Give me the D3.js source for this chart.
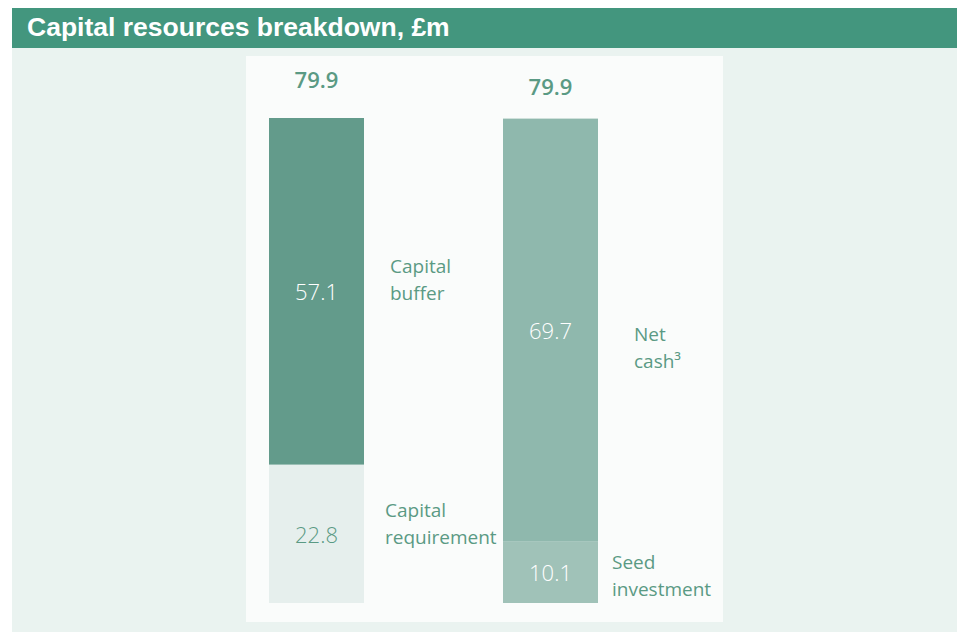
<!DOCTYPE html>
<html>
<head>
<meta charset="utf-8">
<script src="https://cdn.jsdelivr.net/npm/d3@7"></script>
<style>
  body { margin: 0; background: #fff; }
  svg { display: block; }
</style>
</head>
<body>
<div id="chart"></div>
<script>
// data
var columns = ['Capital resources', 'Sources'];
var totals = [79.9, 79.9];
var bottomValues = [22.8, 10.1];
var topValues = [57.1, 69.7];
var bottomNames = [['Capital', 'requirement'], ['Seed', 'investment']];
var topNames = [['Capital', 'buffer'], ['Net', 'cash\u00b3']];

var W = 957, H = 632;
var green = '#5a9a84';

var svg = d3.select('#chart').append('svg')
    .attr('width', W).attr('height', H);

// header + backgrounds
svg.append('rect').attr('x', 12).attr('y', 8).attr('width', W - 12).attr('height', 40)
    .attr('fill', '#43967e');
svg.append('text').attr('x', 27).attr('y', 36)
    .attr('font-family', 'Liberation Sans, Arial, sans-serif')
    .attr('font-weight', 'bold').attr('font-size', 26.5).attr('fill', '#fff')
    .text('Capital resources breakdown, \u00a3m');
svg.append('rect').attr('x', 12).attr('y', 48).attr('width', W - 12).attr('height', H - 48)
    .attr('fill', '#eaf3f0');
svg.append('rect').attr('x', 246).attr('y', 56).attr('width', 477).attr('height', 566)
    .attr('fill', '#fafcfb');

var x = d3.scalePoint().domain(columns).range([316.5, 550.5]);
var y = d3.scaleLinear().domain([0, 79.9]).range([603, 118]);
var bw = 95;

var segs = [];
columns.forEach(function(c, i){
  segs.push({col: c, i: i, y0: 0, y1: bottomValues[i], v: bottomValues[i], name: bottomNames[i], part: 'bottom'});
  segs.push({col: c, i: i, y0: bottomValues[i], y1: bottomValues[i] + topValues[i], v: topValues[i], name: topNames[i], part: 'top'});
});

var fills = {'0top': '#639b8b', '0bottom': '#e6efed', '1top': '#8fb8ad', '1bottom': '#a0c2b8'};
var valueColor = {'0top': '#fff', '0bottom': green, '1top': '#fff', '1bottom': '#fff'};
// label tweaks (dx from bar right edge, dy from segment middle)
var nameShift = {'0top': [26, -11], '0bottom': [21, -10], '1top': [36, 18], '1bottom': [14, 4]};
var valueShift = {'0top': 1, '0bottom': 1, '1top': 1, '1bottom': 1};

var font = 'Open Sans, Liberation Sans, sans-serif';

svg.selectAll('rect.seg').data(segs).enter().append('rect')
    .attr('class', 'seg')
    .attr('x', function(d){ return x(d.col) - bw / 2; })
    .attr('y', function(d){ return y(d.y1); })
    .attr('width', bw)
    .attr('height', function(d){ return y(d.y0) - y(d.y1); })
    .attr('fill', function(d){ return fills[d.i + d.part]; });

svg.selectAll('text.val').data(segs).enter().append('text')
    .attr('class', 'val')
    .attr('x', function(d){ return x(d.col); })
    .attr('y', function(d){ return (y(d.y0) + y(d.y1)) / 2 + valueShift[d.i + d.part]; })
    .attr('dy', '0.35em')
    .attr('text-anchor', 'middle')
    .attr('font-family', font).attr('font-size', 22).attr('font-weight', 300)
    .attr('fill', function(d){ return valueColor[d.i + d.part]; })
    .text(function(d){ return d.v.toFixed(1); });

svg.selectAll('text.name').data(segs).enter().append('text')
    .attr('class', 'name')
    .attr('font-family', font).attr('font-size', 19)
    .attr('fill', green)
    .each(function(d){
      var s = nameShift[d.i + d.part];
      var t = d3.select(this);
      var mid = (y(d.y0) + y(d.y1)) / 2;
      d.name.forEach(function(line, k){
        t.append('tspan')
          .attr('x', x(d.col) + bw / 2 + s[0])
          .attr('y', mid + s[1] + (k - 0.5) * 27)
          .attr('dy', '0.35em')
          .text(line);
      });
    });

var totalShift = [0, 7];
svg.selectAll('text.total').data(totals).enter().append('text')
    .attr('class', 'total')
    .attr('x', function(d, i){ return x(columns[i]); })
    .attr('y', function(d, i){ return 80 + totalShift[i]; })
    .attr('dy', '0.35em')
    .attr('text-anchor', 'middle')
    .attr('font-family', font).attr('font-size', 22).attr('font-weight', 600)
    .attr('fill', green)
    .text(function(d){ return d.toFixed(1); });
</script>
</body>
</html>
